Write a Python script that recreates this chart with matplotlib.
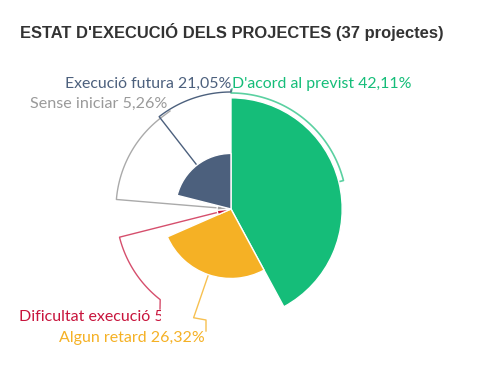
import numpy as np
import matplotlib
matplotlib.use("Agg")
import matplotlib.pyplot as plt
from matplotlib.patches import Wedge
from matplotlib.transforms import Bbox, TransformedBbox

# ---- data ----
title = "ESTAT D'EXECUCIÓ DELS PROJECTES (37 projectes)"
categories = ["D'acord al previst", "Algun retard", "Dificultat execució",
              "Sense iniciar", "Execució futura"]
values = [42.11, 26.32, 5.26, 5.26, 21.05]
value_labels = ["42,11%", "26,32%", "5,26%", "5,26%", "21,05%"]
colors = ["#15BD79", "#F5B125", "#C8143C", "#A6A6A6", "#4C607D"]
label_colors = ["#15BD79", "#F5B125", "#C8143C", "#9A9A9A", "#4C607D"]

W, H = 484, 366
fig = plt.figure(figsize=(W / 100, H / 100), dpi=100)
ax = fig.add_axes([0, 0, 1, 1])
ax.set_xlim(0, W)
ax.set_ylim(H, 0)
ax.axis("off")

cx, cy = 231, 209
k = 2.64          # radius per percent (variable pie)
rc = 115          # connector radius


def pt(theta, r):
    t = np.radians(theta)
    return cx + r * np.sin(t), cy - r * np.cos(t)


def arc(t0, t1, r, n=60):
    ts = np.linspace(t0, t1, n)
    xs, ys = pt(ts, r)
    return list(xs), list(ys)


total = sum(values)
starts = np.cumsum([0] + values[:-1]) / total * 360
ends = np.cumsum(values) / total * 360
mids = (starts + ends) / 2

for v, a0, a1, c in zip(values, starts, ends, colors):
    ax.add_patch(Wedge((cx, cy), v * k, a0 - 90, a1 - 90, facecolor=c,
                       edgecolor="white", linewidth=1, zorder=3))

# ---- connectors ----
def radial(i, r_out):
    x0, y0 = pt(mids[i], values[i] * k)
    x1, y1 = pt(mids[i], r_out)
    return [x0, x1], [y0, y1]

# green
xs, ys = arc(mids[0], 0, rc + 1)
ax.plot([pt(mids[0], values[0] * k)[0]] + xs + [232],
        [pt(mids[0], values[0] * k)[1]] + ys + [89],
        color=colors[0], lw=1.2, alpha=0.7, zorder=2)
# slate (Execució futura)
rx, ry = radial(4, rc + 2)
xs, ys = arc(mids[4], 360, rc + 2)
ax.plot(rx + xs + [231], ry + ys + [90], color=colors[4], lw=1, zorder=2)
# gray (Sense iniciar)
rx, ry = radial(3, rc)
xs, ys = arc(mids[3], 323, rc)
ax.plot(rx + xs + [170], ry + ys + [111], color="#AAAAAA", lw=1, zorder=1)
# red (Dificultat)
rx, ry = radial(2, rc)
xs, ys = arc(mids[2], 218, rc)
ax.plot(rx + xs + [160], ry + ys + [309], color=colors[2], lw=1, alpha=0.75, zorder=2)
# yellow (Algun retard)
rx, ry = radial(1, rc)
ax.plot(rx + [206, 206], ry + [320, 331], color=colors[1], lw=1, alpha=0.8, zorder=2)

# ---- text ----
renderer = fig.canvas.get_renderer()


def fit(t, width):
    w = t.get_window_extent(renderer).width
    t.set_fontsize(t.get_fontsize() * width / w)


lab_font = ["Liberation Sans Narrow", "Lato"]
t = ax.text(20, 38, title, fontsize=13, fontweight="bold", color="#333333",
            family="Liberation Sans", ha="left", va="baseline")
fit(t, 425)

specs = [  # index, x, baseline y, ha, target width
    (4, 231, 88, "right", 167),
    (0, 232, 88, "left", 180),
    (3, 167, 108, "right", 137),
    (1, 59, 342, "left", 146),
]
for i, x, y, ha, wdt in specs:
    t = ax.text(x, y, f"{categories[i]} {value_labels[i]}", color=label_colors[i],
                fontsize=14, family=lab_font, ha=ha, va="baseline", zorder=5)
    fit(t, wdt)

fs_ref = t.get_fontsize()
t = ax.text(19, 321, f"{categories[2]} {value_labels[2]}", color=label_colors[2],
            fontsize=fs_ref, family=lab_font, ha="left", va="baseline", zorder=5)
t.set_clip_box(TransformedBbox(Bbox([[0, 290], [160.5, 330]]), ax.transData))
t.set_clip_on(True)

fig.savefig("out.png", dpi=100, facecolor="white")
